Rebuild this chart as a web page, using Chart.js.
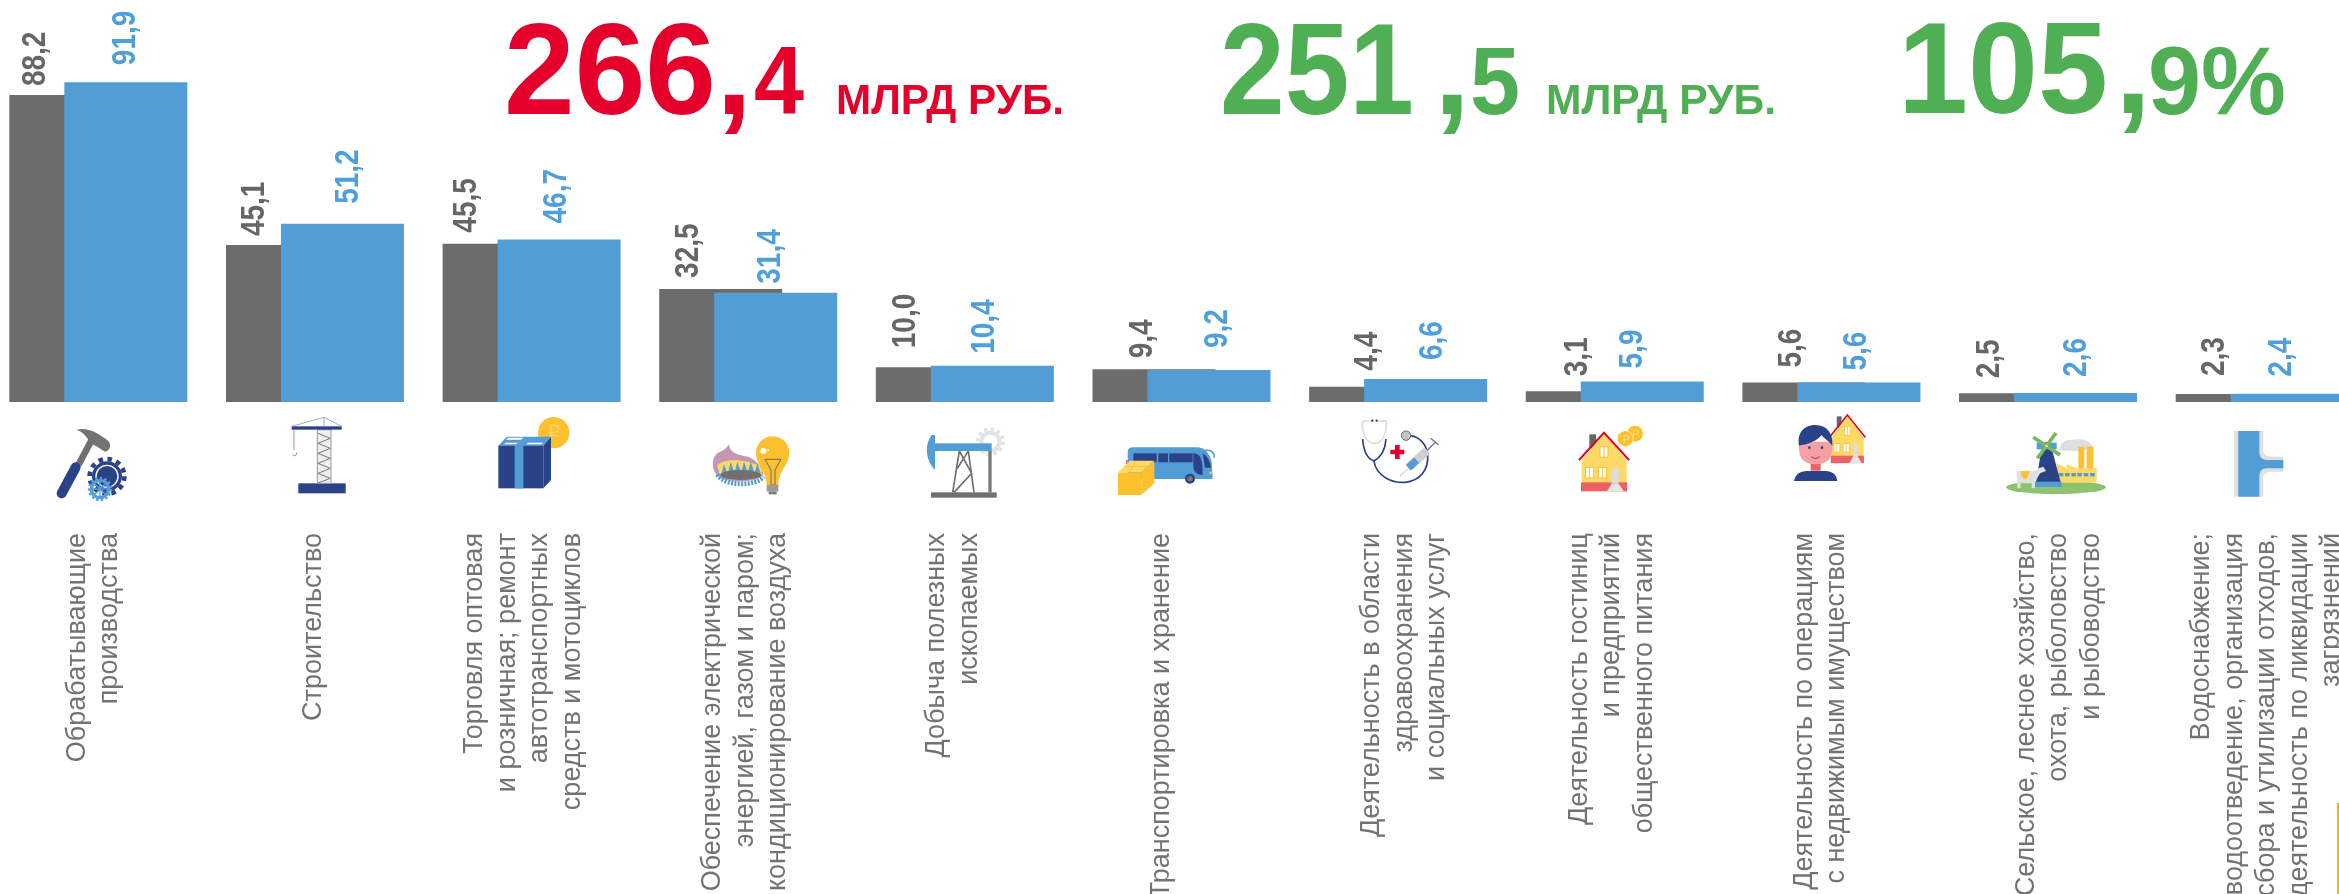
<!DOCTYPE html>
<html lang="ru">
<head>
<meta charset="utf-8">
<title>Объём работ</title>
<script src="https://cdn.jsdelivr.net/npm/chart.js@4/dist/chart.umd.min.js"></script>
<style>
html,body{margin:0;padding:0;width:2339px;height:894px;overflow:hidden;background:#fff}
#wrap{position:relative;width:2339px;height:894px;overflow:hidden}
canvas{position:absolute;left:-10px;top:0}
svg{position:absolute;left:0;top:0;pointer-events:none}
</style>
</head>
<body>
<div id="wrap">
<canvas id="c" width="2383" height="894" style="width:2383px;height:894px"></canvas>
<svg width="2339" height="894" viewBox="0 0 2339 894" xmlns="http://www.w3.org/2000/svg">
<defs>
<g id="house">
  <rect x="748" y="88" width="20" height="42" fill="#666"/>
  <polygon points="725,165 792,85 860,165 860,258 725,258" fill="#FFD966"/>
  <rect x="723" y="232" width="138" height="27" fill="#EE6065"/>
  <polyline points="717,165 792,83 867,165" fill="none" stroke="#E4002B" stroke-width="6"/>
  <rect x="815" y="188" width="21" height="48" fill="#ddd"/>
  <polygon points="815,236 836,236 851,259 801,259" fill="#e6e6e6"/>
  <g fill="#fff" stroke="#FDC02F" stroke-width="3"><rect x="780" y="125" width="24" height="32"/><rect x="736" y="187" width="25" height="32"/><rect x="775" y="187" width="25" height="32"/></g>
  <g stroke="#FDC02F" stroke-width="3"><line x1="792" y1="125" x2="792" y2="157"/><line x1="748" y1="187" x2="748" y2="219"/><line x1="787" y1="187" x2="787" y2="219"/></g>
</g>
</defs>
<!-- 1: hammer and gears -->
<g transform="translate(40 405) scale(.33333)">
  <line x1="155" y1="105" x2="115" y2="180" stroke="#6f6f6f" stroke-width="20"/>
  <path d="M110,75 C140,65 175,85 205,108 C215,120 210,138 195,140 L172,125 L150,115 C140,90 125,80 110,75Z" fill="#737373"/>
  <line x1="107" y1="187" x2="65" y2="265" stroke="#2A4288" stroke-width="30" stroke-linecap="round"/>
  <circle cx="201" cy="214" r="45" fill="#2A4288"/>
  <circle cx="201" cy="214" r="52" fill="none" stroke="#2A4288" stroke-width="14" stroke-dasharray="13.6 13.6"/>
  <circle cx="201" cy="214" r="33" fill="none" stroke="#fff" stroke-width="4"/>
  <circle cx="180" cy="252" r="26" fill="none" stroke="#529DD6" stroke-width="10"/>
  <circle cx="180" cy="252" r="33" fill="none" stroke="#529DD6" stroke-width="7" stroke-dasharray="7 7"/>
  <path d="M180,226 V278 M154,252 H206 M162,234 L198,270 M198,234 L162,270" stroke="#529DD6" stroke-width="4"/>
</g>
<!-- 2: crane -->
<g transform="translate(40 405) scale(.33333)">
  <rect x="775" y="235" width="142" height="30" fill="#2A4288"/>
  <rect x="832" y="74" width="41" height="161" fill="#eee" stroke="#999" stroke-width="3"/>
  <path d="M834,85 L871,100 L834,115 L871,130 L834,145 L871,160 L834,175 L871,190 L834,205 L871,220 L834,234" fill="none" stroke="#777" stroke-width="3"/>
  <rect x="755" y="64" width="150" height="10" fill="#2A4288"/>
  <path d="M755,64 L852,37 L905,64 M852,37 V64" fill="none" stroke="#8a9ad0" stroke-width="2.5"/>
  <path d="M762,74 V135 M768,142 A6,6 0 1 1 758,148" fill="none" stroke="#6d80c0" stroke-width="2.5"/>
</g>
<!-- 3: box and coin -->
<g transform="translate(480 405) scale(.33333)">
  <circle cx="221" cy="83" r="47" fill="#FDC02F"/>
  <path d="M213,97 V60 H225 A11,11 0 0 1 225,82 H207 M207,92 H232" fill="none" stroke="#FFE08A" stroke-width="3"/>
  <polygon points="190,122 213,95 213,225 190,250" fill="#2A4288"/>
  <polygon points="55,122 80,95 213,95 190,122" fill="#529DD6"/>
  <polygon points="84,98 130,98 122,104 78,104" fill="#fff"/>
  <polygon points="72,118 108,118 114,113 78,113" fill="#fff"/>
  <polygon points="138,118 184,118 190,113 144,113" fill="#fff"/>
  <rect x="55" y="122" width="135" height="128" fill="#2A4288"/>
  <rect x="104" y="122" width="26" height="128" fill="#529DD6"/>
</g>
<!-- 4: burner and lamp -->
<g transform="translate(480 405) scale(.33333)">
  <path d="M748,117 C745,140 770,150 805,155 C830,165 850,190 850,210 C830,235 740,235 715,215 C690,190 695,150 720,140 C735,135 742,125 748,117Z" fill="#C796B5"/>
  <path d="M712,180 C735,160 790,160 845,185 L845,212 L720,212Z" fill="#FFD966"/>
  <g fill="#529DD6"><path d="M725,205 L732,178 L742,205Z"/><path d="M745,200 L752,170 L762,200Z"/><path d="M765,198 L772,170 L782,198Z"/><path d="M785,198 L792,170 L802,198Z"/><path d="M805,198 L812,170 L822,198Z"/><path d="M825,200 L832,176 L842,204Z"/></g>
  <ellipse cx="782" cy="210" rx="62" ry="15" fill="#707070"/>
  <path d="M712,208 C730,245 830,245 850,215" fill="none" stroke="#529DD6" stroke-width="14" stroke-dasharray="6 4"/>
  <path d="M878,94 C910,94 928,120 928,145 C928,180 896,195 895,240 L860,240 C860,200 828,180 828,145 C828,118 848,94 878,94Z" fill="#FDC02F"/>
  <circle cx="850" cy="138" r="9" fill="#fff"/><circle cx="865" cy="136" r="3" fill="#fff"/>
  <path d="M855,163 H903 L885,195 V240 H873 V195Z" fill="none" stroke="#6b6b6b" stroke-width="3"/>
  <rect x="860" y="240" width="35" height="20" fill="#9a9a9a"/><rect x="866" y="260" width="24" height="8" fill="#777"/>
</g>
<!-- 5: oil pump -->
<g transform="translate(900 405) scale(.33333)">
  <circle cx="271" cy="110" r="27" fill="none" stroke="#e3e3e3" stroke-width="12"/>
  <circle cx="271" cy="110" r="38" fill="none" stroke="#e3e3e3" stroke-width="11" stroke-dasharray="10 9.9"/>
  <path d="M158,262 L178,138 M222,262 L205,138 M178,138 L215,205 L162,262 M205,138 L172,190" fill="none" stroke="#707070" stroke-width="5"/>
  <rect x="265" y="138" width="10" height="124" fill="#7a7a7a"/>
  <rect x="93" y="262" width="197" height="16" fill="#707070"/>
  <rect x="105" y="115" width="170" height="23" fill="#529DD6"/>
  <path d="M95,90 C70,125 80,170 105,195 V90Z" fill="#529DD6"/>
</g>
<!-- 6: bus and crate -->
<g transform="translate(900 405) scale(.33333)">
  <path d="M683,140 Q684,127 700,127 L895,127 Q925,130 935,170 L938,222 L683,222Z" fill="#529DD6"/>
  <path d="M915,135 Q945,135 942,158" fill="none" stroke="#529DD6" stroke-width="5"/>
  <rect x="700" y="145" width="70" height="27" fill="#2A4288"/><rect x="775" y="145" width="29" height="27" fill="#2A4288"/><rect x="808" y="145" width="70" height="27" fill="#2A4288"/>
  <path d="M880,145 C905,145 908,170 908,210 C890,210 880,200 880,180Z M908,145 C925,155 930,170 933,188 L915,188 Z" fill="#2A4288"/>
  <rect x="928" y="200" width="10" height="7" fill="#FDC02F"/>
  <circle cx="870" cy="221" r="15" fill="#2A4288"/><circle cx="870" cy="221" r="8" fill="#777"/>
  <rect x="678" y="165" width="5" height="15" fill="#EE6065"/>
  <polygon points="654,202 724,202 724,270 654,270" fill="#FDC02F"/>
  <polygon points="654,202 690,167 763,167 724,202" fill="#FFD966"/>
  <polygon points="724,202 763,167 763,235 724,270" fill="#FDC02F"/>
  <path d="M672,185 H745 M708,167 L690,202" stroke="#FDC02F" stroke-width="3" fill="none"/>
</g>
<!-- 7: stethoscope -->
<g transform="translate(1340 405) scale(.33333)">
  <path d="M68,48 C58,125 140,150 140,48 M68,48 H92 M140,48 H116" fill="none" stroke="#e2e2e2" stroke-width="6"/>
  <circle cx="97" cy="47" r="3.5" fill="#2A4288"/><circle cx="110" cy="47" r="3.5" fill="#2A4288"/>
  <path d="M68,102 Q72,158 102,168 Q135,150 138,102" fill="none" stroke="#2A4288" stroke-width="5"/>
  <path d="M102,168 C108,215 160,235 195,232 C240,228 266,195 263,150 C260,115 235,95 212,92" fill="none" stroke="#2A4288" stroke-width="5"/>
  <circle cx="198" cy="92" r="14" fill="#c4c4c4" stroke="#6a6a6a" stroke-width="3"/>
  <path d="M172,120 V162 M151,141 H193" stroke="#E4002B" stroke-width="14"/>
  <line x1="180" y1="213" x2="205" y2="190" stroke="#bdbdbd" stroke-width="3"/>
  <line x1="205" y1="188" x2="262" y2="136" stroke="#cfcfcf" stroke-width="26"/>
  <line x1="205" y1="188" x2="230" y2="166" stroke="#529DD6" stroke-width="22"/>
  <path d="M262,136 L286,112 M272,100 L296,120" stroke="#777" stroke-width="4" fill="none"/>
</g>
<!-- 8: house and coins -->
<g transform="translate(1340 405) scale(.33333)">
  <circle cx="885" cy="86" r="24" fill="#FDC02F"/><circle cx="856" cy="101" r="24" fill="#FDC02F" stroke="#fff" stroke-width="2"/>
  <path d="M852,113 V92 H860 A6,6 0 0 1 860,104 H848 M881,96 V76 H889 A6,6 0 0 1 889,88 H877" fill="none" stroke="#FFE08A" stroke-width="3"/>
  <use href="#house"/>
</g>
<!-- 9: person and house -->
<g transform="translate(1780 405) scale(.33333)">
  <g transform="translate(202 30) scale(.72 .82) translate(-792 -83)"><use href="#house"/></g>
  <rect x="92" y="170" width="30" height="27" fill="#EE6065"/>
  <path d="M57,110 H157 V130 Q157,178 107,178 Q57,178 57,130Z" fill="#F4A0A5"/>
  <path d="M57,122 C50,80 75,60 107,60 C140,60 160,85 157,122 C145,105 130,100 125,90 C110,110 80,118 57,122Z" fill="#2A4288"/>
  <circle cx="88" cy="128" r="4" fill="#2A4288"/><circle cx="126" cy="128" r="4" fill="#2A4288"/>
  <path d="M94,155 Q107,166 120,155" fill="none" stroke="#E4002B" stroke-width="2.5"/>
  <path d="M42,228 Q48,198 80,198 H140 Q168,200 172,228Z" fill="#2A4288"/>
</g>
<!-- 10: farm and factory -->
<g transform="translate(1780 405) scale(.33333)">
  <ellipse cx="828" cy="247" rx="150" ry="20" fill="#8DC26F"/>
  <path d="M840,125 C850,100 880,105 895,103 C915,100 935,115 938,125 C920,140 870,140 840,135Z" fill="#dedede"/>
  <rect x="895" y="125" width="18" height="65" fill="#FDC02F"/><rect x="920" y="125" width="20" height="65" fill="#FDC02F"/>
  <polygon points="830,175 860,190 860,178 890,190 950,188 950,233 830,233" fill="#FFD966"/>
  <rect x="836" y="204" width="14" height="10" fill="#529DD6"/><rect x="855" y="204" width="14" height="10" fill="#529DD6"/><rect x="874" y="204" width="14" height="10" fill="#529DD6"/><rect x="892" y="204" width="14" height="10" fill="#529DD6"/><rect x="911" y="204" width="14" height="10" fill="#529DD6"/><rect x="930" y="204" width="14" height="10" fill="#529DD6"/>
  <path d="M785,130 C790,105 810,105 815,130 L842,232 H768Z" fill="#2A4288"/>
  <rect x="763" y="230" width="82" height="16" fill="#529DD6"/>
  <rect x="770" y="113" width="60" height="20" fill="#529DD6"/>
  <line x1="760" y1="97" x2="840" y2="150" stroke="#79B85B" stroke-width="11"/>
  <line x1="828" y1="84" x2="772" y2="160" stroke="#79B85B" stroke-width="11"/>
  <circle cx="800" cy="123" r="4" fill="#FFD966"/>
  <path d="M710,198 H765 L775,190 L790,185 L798,198 L780,205 L765,232 V250 H755 V235 H722 V250 H712Z" fill="#e0e0e0"/>
  <path d="M722,198 H750 L738,225 L725,215Z" fill="#FDC02F"/>
</g>
<!-- 11: pipe -->
<g transform="translate(2000 405) scale(.33333)">
  <rect x="703" y="78" width="87" height="197" fill="#dedede"/>
  <path d="M790,140 Q795,155 815,155 H850 V200 H815 Q795,200 790,215Z" fill="#dedede"/>
  <path d="M778,78 V145 Q780,165 800,165 H850 V190 H800 Q780,190 778,210 V275 H715 V78Z" fill="#529DD6"/>
</g>
<rect x="2337" y="803" width="2" height="91" fill="#F2B417"/>
</svg>
</div>
<script>
// ---- chart data ----
const categories = [
  ['Обрабатывающие','производства'],
  ['Строительство'],
  ['Торговля оптовая','и розничная; ремонт','автотранспортных','средств и мотоциклов'],
  ['Обеспечение электрической','энергией, газом и паром;','кондиционирование воздуха'],
  ['Добыча полезных','ископаемых'],
  ['Транспортировка и хранение'],
  ['Деятельность в области','здравоохранения','и социальных услуг'],
  ['Деятельность гостиниц','и предприятий','общественного питания'],
  ['Деятельность по операциям','с недвижимым имуществом'],
  ['Сельское, лесное хозяйство,','охота, рыболовство','и рыбоводство'],
  ['Водоснабжение;','водоотведение, организация','сбора и утилизации отходов,','деятельность по ликвидации','загрязнений']
];
const previous = [88.2,45.1,45.5,32.5,10.0,9.4,4.4,3.1,5.6,2.5,2.3];
const current  = [91.9,51.2,46.7,31.4,10.4,9.2,6.6,5.9,5.6,2.6,2.4];

// ---- headline figures ----
const GREY='#6C6C6C', BLUE='#529DD6', RED='#E4002B', GREEN='#50AE54';
const headline = [
  {t:'266',  x:504, y:114, s:130, w:212, c:RED},
  {t:',',    x:716, y:114, s:130, w:40,  c:RED},
  {t:'4',    x:754, y:114, s:96,  w:50,  c:RED},
  {t:'МЛРД РУБ.', x:836, y:114, s:43, w:228, c:RED},
  {t:'251',  x:1220,y:114, s:130, w:194, c:GREEN},
  {t:',',    x:1434,y:114, s:130, w:40,  c:GREEN},
  {t:'5',    x:1470,y:114, s:96,  w:50,  c:GREEN},
  {t:'МЛРД РУБ.', x:1546,y:114, s:43, w:230, c:GREEN},
  {t:'105',  x:1898,y:113, s:130, w:210, c:GREEN},
  {t:',',    x:2115,y:113, s:130, w:40,  c:GREEN},
  {t:'9%',   x:2148,y:114, s:96,  w:138, c:GREEN}
];

// ---- hand placement of annotations in the reference ----
const labelShift = [-5,-1,-8,-3,-12,-20,6,-3,-11,11,2];
const greyGap  = [9,9,11,11,19,11,16,15,15,15,18];
const blueGap  = [17,20,16,9,12,22,19,13,12,16,17];
const greyNudge= [-1,1.5,-3,2.5,2,23,31,24,22,3,12];
const blueNudge= [0,6,-2.5,-5,-7.5,9,7,-10,-2,1,-10];

const FONT = '"Liberation Sans", Arial, sans-serif';
const BAND = 2383/11, OFFSET = 55, BARW = 123;
const TICK_SIZE = 27, LINE_H = 32.5;

const annotations = {
  id:'annotations',
  beforeDraw(chart){
    const items = chart.scales.x.getLabelItems();
    if(items._done) return;
    items.forEach((it,i)=>{
      const n = categories[i].length;
      it.options.translation[0] += -(n-1)*LINE_H/2 + labelShift[i];
    });
    items._done = true;
  },
  afterDatasetsDraw(chart){
    const ctx = chart.ctx;
    ctx.save();
    headline.forEach(h=>{
      ctx.font = 'bold '+h.s+'px '+FONT;
      ctx.fillStyle = h.c;
      ctx.textAlign='left'; ctx.textBaseline='alphabetic';
      ctx.fillText(h.t, h.x+10, h.y, h.w);
    });
    const draw = (dsIndex, gaps, nudges, color, dx) => {
      chart.getDatasetMeta(dsIndex).data.forEach((bar,i)=>{
        const txt = chart.data.datasets[dsIndex].data[i].toFixed(1).replace('.',',');
        ctx.save();
        ctx.translate(bar.x + dx + nudges[i], bar.y - gaps[i]);
        ctx.rotate(-Math.PI/2);
        ctx.scale(1,1.2);
        ctx.font = 'bold 28px '+FONT;
        ctx.fillStyle = color;
        ctx.textAlign='left'; ctx.textBaseline='middle';
        ctx.fillText(txt,0,0);
        ctx.restore();
      });
    };
    draw(0, greyGap, greyNudge, '#666666', -BARW/2 + OFFSET/2);
    draw(1, blueGap, blueNudge, '#4F9FDB', 0);
    ctx.restore();
  }
};

new Chart(document.getElementById('c'),{
  type:'bar',
  data:{
    labels:categories,
    datasets:[
      {label:'Предыдущий период',data:previous,backgroundColor:GREY,order:2},
      {label:'Текущий период',data:current,backgroundColor:BLUE,order:1}
    ]
  },
  options:{
    responsive:false,
    animation:false,
    devicePixelRatio:1,
    layout:{padding:0},
    // negative share: first-sorted (blue, drawn on top) sits on the right
    datasets:{bar:{categoryPercentage:-(2*OFFSET)/BAND,barPercentage:-BARW/OFFSET,borderWidth:0}},
    plugins:{legend:{display:false},tooltip:{enabled:false},title:{display:false}},
    scales:{
      x:{
        offset:true,
        afterFit(s){s.height=492;s.paddingLeft=0;s.paddingRight=0;},
        grid:{display:false,drawTicks:false},
        border:{display:false},
        ticks:{
          autoSkip:false,minRotation:90,maxRotation:90,padding:131,
          color:'#737373',
          font:{family:FONT,size:TICK_SIZE,lineHeight:LINE_H/TICK_SIZE}
        }
      },
      y:{display:false,min:0,max:402/3.48,grid:{display:false}}
    }
  },
  plugins:[annotations]
});
</script>
</body>
</html>
